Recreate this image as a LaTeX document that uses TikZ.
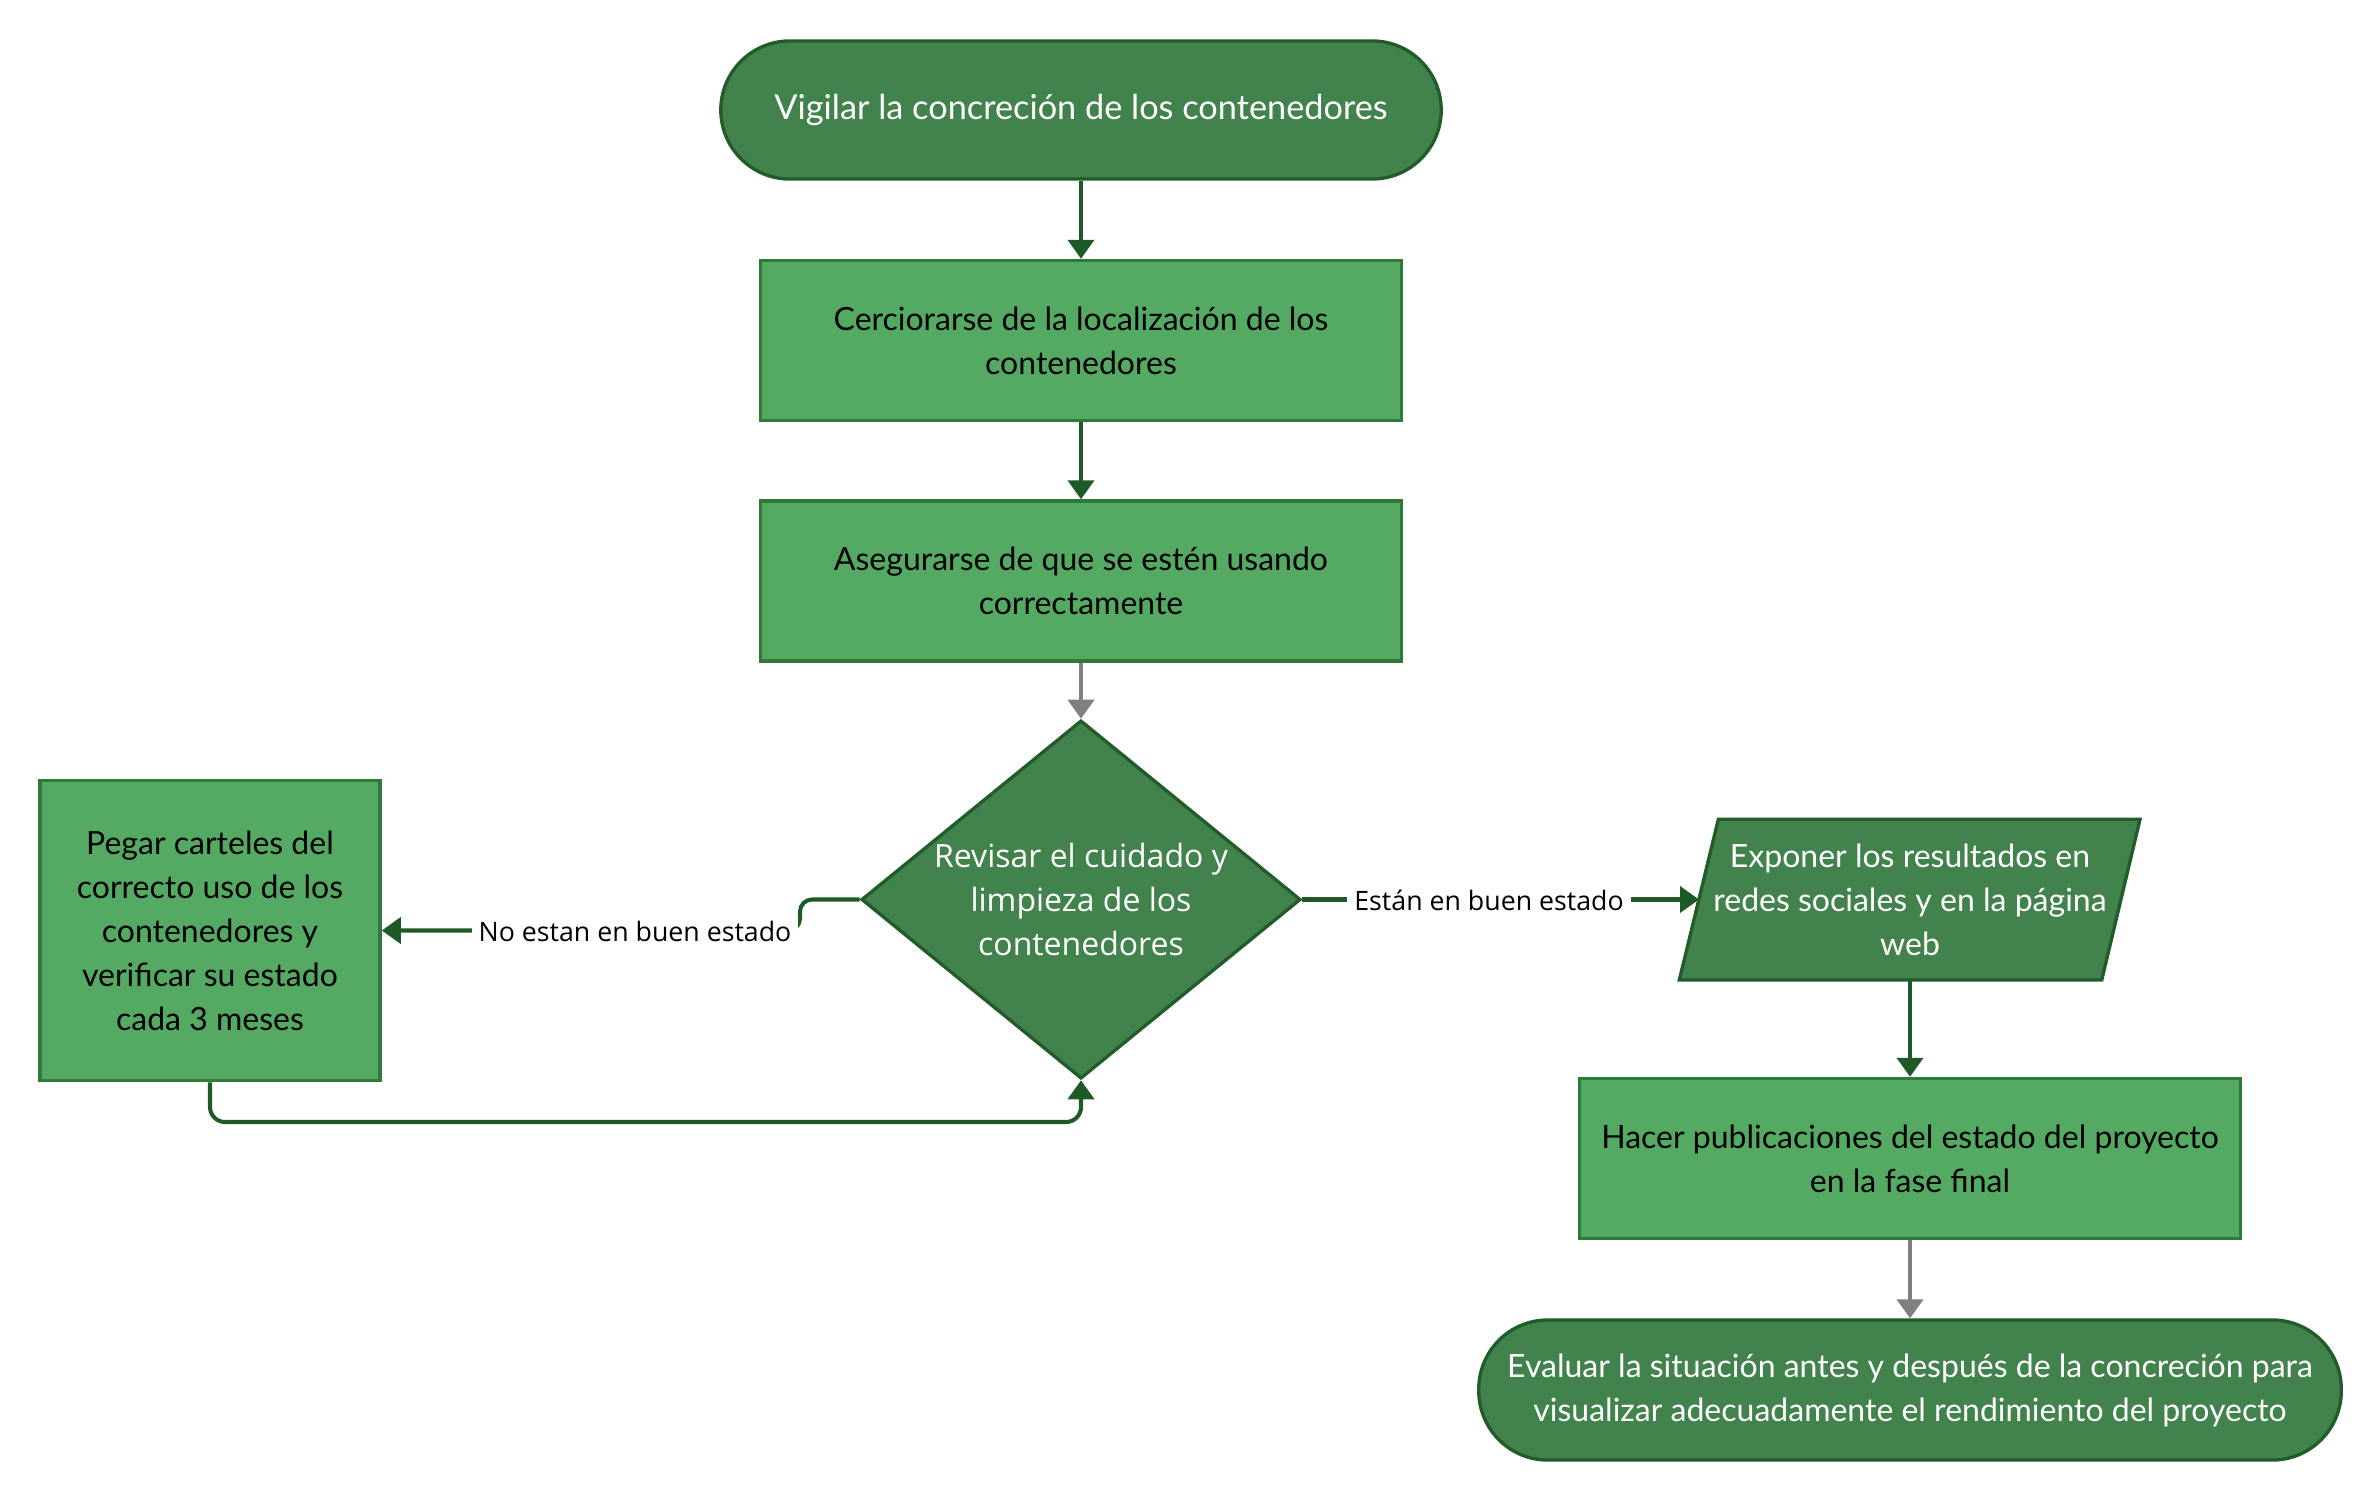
\documentclass[tikz,border=0pt]{standalone}
\usepackage{fontspec}
\newfontfamily\latofont{Lato}
\newfontfamily\osfont{Open Sans}
\usetikzlibrary{arrows.meta,shapes.geometric}
\definecolor{darkfill}{RGB}{66,131,77}
\definecolor{lightfill}{RGB}{84,170,98}
\definecolor{lightborder}{RGB}{47,122,56}
\definecolor{darkborder}{RGB}{33,92,42}
\definecolor{connc}{RGB}{30,90,40}
\definecolor{grayc}{RGB}{128,128,128}
\begin{document}
\begin{tikzpicture}[x=0.01cm,y=-0.01cm,
  term/.style={rectangle, rounded corners=0.69cm, fill=darkfill, draw=darkborder, line width=0.95pt,
    text=white, align=center, inner sep=0pt, font=\latofont\fontsize{9.1pt}{12.5pt}\selectfont},
  proc/.style={rectangle, fill=lightfill, draw=lightborder, line width=0.95pt,
    text=black, align=center, inner sep=0pt, font=\latofont\fontsize{9.1pt}{12.5pt}\selectfont},
  dec/.style={diamond, fill=darkfill, draw=darkborder, line width=0.95pt, inner sep=0pt,
    minimum width=4.39cm, minimum height=3.58cm},
  dectext/.style={text=white, align=center, inner sep=0pt, font=\osfont\fontsize{9.1pt}{12.5pt}\selectfont},
  partext/.style={text=white, align=center, inner sep=0pt, font=\latofont\fontsize{9.1pt}{12.5pt}\selectfont},
  darkshape/.style={fill=darkfill, draw=darkborder, line width=0.95pt, line join=miter},
  conn/.style={draw=connc, line width=1.15pt, -{Triangle[length=0.19cm,width=0.26cm]}},
  conng/.style={draw=grayc, line width=1.15pt, -{Triangle[length=0.19cm,width=0.26cm]}},
  lbl/.style={fill=white, text=black, inner xsep=2pt, inner ysep=1pt, font=\osfont\fontsize{7.6pt}{9pt}\selectfont}
]
\useasboundingbox (0,0) rectangle (2380,1500);

% nodes
\node[term, minimum width=7.20cm, minimum height=1.38cm, font=\latofont\fontsize{9.75pt}{12.5pt}\selectfont] (t1) at (1081,110) {Vigilar la concreción de los contenedores};
\node[proc, minimum width=6.41cm, minimum height=1.60cm] (b2) at (1081,340.5) {Cerciorarse de la localización de los\\contenedores};
\node[proc, minimum width=6.41cm, minimum height=1.60cm] (b3) at (1081,581) {Asegurarse de que se estén usando\\correctamente};
\node[dec] (d) at (1081,899.5) {};
\node[dectext] (dt) at (d) {Revisar el cuidado y\\limpieza de los\\contenedores};
\node[proc, minimum width=3.40cm, minimum height=3.00cm] (lb) at (210,930.5) {Pegar carteles del\\correcto uso de los\\contenedores y\\verificar su estado\\cada 3 meses};
\draw[darkshape] (1679.3,980) -- (1718.3,819.3) -- (2140,819.3) -- (2101.7,980) -- cycle;
\node[partext] (par) at (1910,899.7) {Exponer los resultados en\\redes sociales y en la página\\web};
\coordinate (parW) at (1699,899.5);
\coordinate (parS) at (1910,980);
\node[proc, minimum width=6.61cm, minimum height=1.60cm] (hb) at (1910,1158.5) {Hacer publicaciones del estado del proyecto\\en la fase final};
\node[term, minimum width=8.62cm, minimum height=1.40cm] (te) at (1910,1390) {Evaluar la situación antes y después de la concreción para\\visualizar adecuadamente el rendimiento del proyecto};

% connectors
\draw[conn] (t1) -- (b2);
\draw[conn] (b2) -- (b3);
\draw[conng] (b3) -- (d.north);
\draw[conn, rounded corners=0.12cm] (d.west) -- (800,899.5) -- (800,930.5) -- (lb.east);
\draw[conn, rounded corners=0.15cm] (lb.south) -- (210,1122) -- (1081,1122) -- (d.south);
\draw[conn] (d.east) -- (parW);
\draw[conn] (parS) -- (hb);
\draw[conng] (hb) -- (te);

% labels
\node[lbl] (l1) at (635,931) {No estan en buen estado};
\node[lbl] (l2) at (1489,900) {Están en buen estado};
\end{tikzpicture}
\end{document}
